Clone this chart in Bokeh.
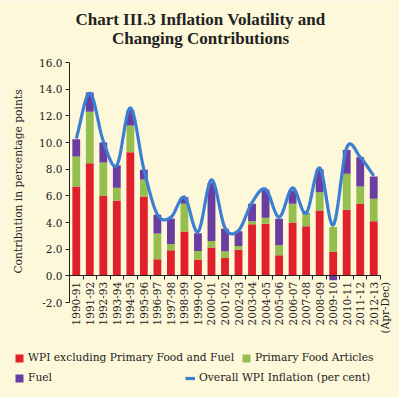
import numpy as np
from bokeh.plotting import figure
from bokeh.models import (Range1d, FixedTicker, NumeralTickFormatter, Legend, LegendItem,
                          ColumnDataSource, LinearAxis, Label)
from bokeh.embed import file_html
from bokeh.resources import INLINE

years = ["1990-91", "1991-92", "1992-93", "1993-94", "1994-95", "1995-96", "1996-97",
         "1997-98", "1998-99", "1999-00", "2000-01", "2001-02", "2002-03", "2003-04",
         "2004-05", "2005-06", "2006-07", "2007-08", "2008-09", "2009-10", "2010-11",
         "2011-12", "2012-13"]
last_note = "(Apr-Dec)"
wpi_ex = [6.70, 8.45, 6.00, 5.65, 9.27, 5.95, 1.24, 1.91, 3.33, 1.22, 2.12, 1.34, 1.96,
          3.86, 3.91, 1.54, 4.00, 3.71, 4.90, 1.79, 4.96, 5.40, 4.10]
food = [2.25, 3.85, 2.50, 0.95, 2.00, 1.27, 1.94, 0.47, 2.07, 0.64, 0.49, 0.50, 0.28,
        0.24, 0.45, 0.75, 1.40, 0.95, 1.37, 1.87, 2.69, 1.30, 1.68]
fuel = [1.30, 1.45, 1.50, 1.70, 1.15, 0.73, 1.40, 1.92, 0.50, 1.34, 4.35, 1.70, 1.10,
        1.30, 2.10, 2.00, 1.00, 0.05, 1.73, -0.33, 1.79, 2.20, 1.67]
overall = [10.3, 13.7, 10.1, 8.3, 12.6, 8.0, 4.6, 4.4, 5.9, 3.3, 7.2, 3.6, 3.4, 5.5,
           6.5, 4.4, 6.6, 4.7, 8.1, 3.8, 9.6, 8.9, 7.5]
y_ticks = [-2, 0, 2, 4, 6, 8, 10, 12, 14, 16]
y_lo, y_hi = -2, 16
title1 = "Chart III.3 Inflation Volatility and"
title2 = "Changing Contributions"
y_title = "Contribution in percentage points"

BG = "#FDF8DA"
RED = "#E0202A"
GREEN = "#94BF4E"
PURPLE = "#6A3DA0"
BLUE = "#3A7FD2"
INK = "#222222"
SERIF = "DejaVu Serif"

# page layout (pixels): the whole canvas is the plotting frame
W, H = 399, 397
AX_LEFT, AX_RIGHT = 69, 380      # x-extent of the category slots
AX_TOP, AX_BOTTOM = 62, 302      # y-extent of y_hi .. y_lo

n = len(years)
px_x = (AX_RIGHT - AX_LEFT) / n
px_y = (AX_BOTTOM - AX_TOP) / (y_hi - y_lo)
x_start = -0.5 - AX_LEFT / px_x
x_end = x_start + W / px_x
y_end = y_hi + AX_TOP / px_y
y_start = y_end - H / px_y


def dx(px):
    return x_start + px / px_x


def dy(py):
    return y_end - py / px_y


xs = np.arange(n, dtype=float)
red_top = np.array(wpi_ex)
green_top = red_top + np.array(food)
fuel_arr = np.array(fuel)
fuel_bot = np.where(fuel_arr >= 0, green_top, 0.0)
fuel_top = np.where(fuel_arr >= 0, green_top + fuel_arr, fuel_arr)

src = ColumnDataSource(dict(x=xs, red_top=red_top, green_bot=red_top, green_top=green_top,
                            fuel_bot=fuel_bot, fuel_top=fuel_top))

# smooth (Catmull-Rom) rendering of the overall series, like a smoothed line chart
ov = np.array(overall)
P = np.concatenate([[2 * ov[0] - ov[1]], ov, [2 * ov[-1] - ov[-2]]])
sx, sy = [], []
steps = 16
for i in range(n - 1):
    p0, p1, p2, p3 = P[i], P[i + 1], P[i + 2], P[i + 3]
    for k in range(steps):
        t = k / steps
        y = 0.5 * ((2 * p1) + (-p0 + p2) * t + (2 * p0 - 5 * p1 + 4 * p2 - p3) * t ** 2
                   + (-p0 + 3 * p1 - 3 * p2 + p3) * t ** 3)
        sx.append(xs[i] + t)
        sy.append(y)
sx.append(xs[-1])
sy.append(ov[-1])

p = figure(frame_width=W, frame_height=H, output_backend="svg", toolbar_location=None,
           x_range=Range1d(x_start, x_end), y_range=Range1d(y_start, y_end), title=None,
           x_axis_type=None, y_axis_type=None, min_border=0)
p.background_fill_color = BG
p.border_fill_color = BG
p.outline_line_color = None
p.grid.visible = False

w = 0.58
r_red = p.vbar(x="x", bottom=0, top="red_top", width=w, source=src, fill_color=RED, line_color=None)
r_green = p.vbar(x="x", bottom="green_bot", top="green_top", width=w, source=src,
                 fill_color=GREEN, line_color=None)
r_fuel = p.vbar(x="x", bottom="fuel_bot", top="fuel_top", width=w, source=src,
                fill_color=PURPLE, line_color=None)
r_line = p.line(sx, sy, line_color=BLUE, line_width=3.2)

# y axis
ya = LinearAxis(fixed_location=-0.5, bounds=(y_lo, y_hi), ticker=FixedTicker(ticks=y_ticks),
                formatter=NumeralTickFormatter(format="0.0"))
ya.major_tick_out = 4
ya.major_tick_in = 0
ya.minor_tick_line_color = None
ya.major_label_standoff = 3
ya.major_label_text_font = SERIF
ya.major_label_text_font_size = "10.5px"
ya.major_label_text_color = INK
ya.axis_line_color = INK
ya.major_tick_line_color = INK
p.add_layout(ya, "left")

# zero line with category-boundary ticks
xz = LinearAxis(fixed_location=0, bounds=(-0.5, n - 0.5),
                ticker=FixedTicker(ticks=[], minor_ticks=[i - 0.5 for i in range(n + 1)]))
xz.major_label_text_font_size = "0px"
xz.major_tick_line_color = None
xz.minor_tick_out = 4
xz.minor_tick_in = 0
xz.minor_tick_line_color = INK
xz.axis_line_color = INK
p.add_layout(xz, "below")

# category labels under the zero line; the last period's note on a second line
note_pos = (n - 1) + 0.8
labels = {i: years[i] for i in range(n)}
labels[note_pos] = last_note
xa = LinearAxis(fixed_location=0, ticker=FixedTicker(ticks=list(range(n)) + [note_pos]))
xa.major_label_overrides = labels
xa.major_label_orientation = np.pi / 2
xa.major_tick_line_color = None
xa.minor_tick_line_color = None
xa.axis_line_color = None
xa.major_tick_out = 0
xa.major_tick_in = 0
xa.major_label_standoff = 6
xa.major_label_text_font = SERIF
xa.major_label_text_font_size = "10.5px"
xa.major_label_text_color = INK
p.add_layout(xa, "below")

# titles
for txt, py in ((title1, 19), (title2, 38)):
    p.add_layout(Label(x=dx(200), y=dy(py), text=txt, text_align="center",
                       text_baseline="middle", text_font="Liberation Serif",
                       text_font_size="17px", text_font_style="bold", text_color=INK))
p.add_layout(Label(x=dx(18), y=dy(181), text=y_title, angle=np.pi / 2, text_align="center",
                   text_baseline="middle", text_font=SERIF, text_font_size="10.7px",
                   text_color=INK))


def mk_legend(items, spacing, row_center):
    return Legend(items=items, orientation="horizontal", location=(14, H - row_center - 6),
                  spacing=spacing, background_fill_alpha=0, border_line_color=None,
                  padding=0, margin=0, glyph_width=10, glyph_height=10, label_standoff=4,
                  label_height=12, label_text_font=SERIF, label_text_font_size="10.7px",
                  label_text_color=INK)


lg1 = mk_legend([LegendItem(label="WPI excluding Primary Food and Fuel", renderers=[r_red]),
                 LegendItem(label="Primary Food Articles", renderers=[r_green])], 7, 358)
lg2 = mk_legend([LegendItem(label="Fuel", renderers=[r_fuel]),
                 LegendItem(label="Overall WPI Inflation (per cent)", renderers=[r_line])],
                133, 378)
p.add_layout(lg1, "center")
p.add_layout(lg2, "center")

open("out.html", "w").write(file_html(p, INLINE))
